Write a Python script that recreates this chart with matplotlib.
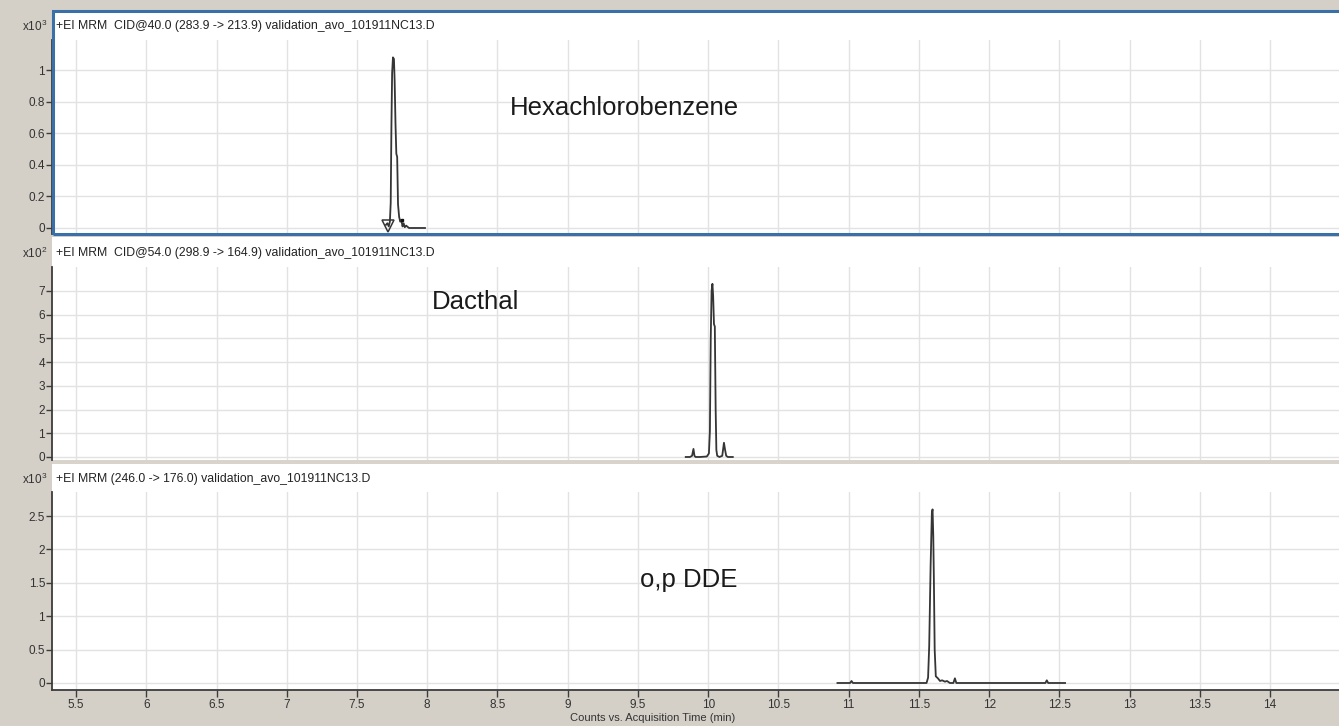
import matplotlib
matplotlib.use('Agg')
import matplotlib.pyplot as plt
from matplotlib.patches import Rectangle

plt.rcParams['font.family'] = ['Liberation Sans', 'DejaVu Sans']
plt.rcParams['mathtext.default'] = 'regular'

# figure size in pixels
W, H = 1339, 726
BG = '#d4d0c8'
TRACE = '#353535'
GRID = '#e2e2e2'
AXIS = '#3c3c3c'

# x axis (minutes)
x_ticks = [5.5, 6, 6.5, 7, 7.5, 8, 8.5, 9, 9.5, 10, 10.5, 11, 11.5, 12, 12.5, 13, 13.5, 14]
x_labels = ['5.5', '6', '6.5', '7', '7.5', '8', '8.5', '9', '9.5', '10', '10.5',
            '11', '11.5', '12', '12.5', '13', '13.5', '14']

# Hexachlorobenzene, counts x10^3
hcb_t = [7.706, 7.716, 7.726, 7.734, 7.740, 7.745, 7.750, 7.756, 7.763, 7.768, 7.774,
         7.780, 7.786, 7.792, 7.800, 7.808, 7.816, 7.824, 7.832, 7.840, 7.850, 7.870,
         7.920, 7.984]
hcb_y = [0.02, 0.03, 0.01, 0.04, 0.16, 0.64, 0.98, 1.08, 1.07, 0.93, 0.66,
         0.47, 0.45, 0.15, 0.07, 0.04, 0.05, 0.01, 0.03, 0.005, 0.015, 0.0,
         0.0, 0.0]
hcb_ticks = [0, 0.2, 0.4, 0.6, 0.8, 1]
hcb_ticklabels = ['0', '0.2', '0.4', '0.6', '0.8', '1']
# integration start / end markers
hcb_start = (7.72, 0.01)
hcb_end = (7.82, 0.05)

# Dacthal, counts x10^2
dac_t = [9.84, 9.87, 9.885, 9.895, 9.902, 9.91, 9.94, 9.99, 10.005, 10.012, 10.018,
         10.024, 10.030, 10.035, 10.041, 10.047, 10.053, 10.058, 10.064, 10.08, 10.10,
         10.112, 10.12, 10.128, 10.14, 10.175]
dac_y = [0.0, 0.0, 0.05, 0.34, 0.05, 0.0, 0.0, 0.02, 0.15, 1.1, 5.0,
         7.0, 7.3, 6.8, 5.6, 5.5, 2.0, 0.3, 0.05, 0.0, 0.05,
         0.6, 0.3, 0.05, 0.0, 0.0]
dac_ticks = [0, 1, 2, 3, 4, 5, 6, 7]
dac_ticklabels = ['0', '1', '2', '3', '4', '5', '6', '7']

# o,p DDE, counts x10^3
dde_t = [10.92, 11.01, 11.02, 11.03, 11.30, 11.554, 11.565, 11.573, 11.583, 11.592,
         11.597, 11.602, 11.606, 11.612, 11.62, 11.635, 11.65, 11.665, 11.685, 11.70,
         11.72, 11.745, 11.756, 11.766, 11.80, 12.40, 12.41, 12.42, 12.54]
dde_y = [0.0, 0.0, 0.03, 0.0, 0.0, 0.0, 0.08, 0.55, 1.75, 2.55,
         2.6, 2.2, 1.6, 0.5, 0.1, 0.07, 0.03, 0.04, 0.02, 0.03,
         0.0, 0.0, 0.07, 0.0, 0.0, 0.0, 0.04, 0.0, 0.0]
dde_ticks = [0, 0.5, 1, 1.5, 2, 2.5]
dde_ticklabels = ['0', '0.5', '1', '1.5', '2', '2.5']

headers = ['+EI MRM  CID@40.0 (283.9 -> 213.9) validation_avo_101911NC13.D',
           '+EI MRM  CID@54.0 (298.9 -> 164.9) validation_avo_101911NC13.D',
           '+EI MRM (246.0 -> 176.0) validation_avo_101911NC13.D']
exponents = ['3', '2', '3']
compounds = ['Hexachlorobenzene', 'Dacthal', 'o,p DDE']


def fx(px):
    return px / W


def fy(py):
    return 1 - py / H


def rect(left, top, right, bottom):
    return [fx(left), fy(bottom), (right - left) / W, (bottom - top) / H]


fig = plt.figure(figsize=(W / 100, H / 100), dpi=100, facecolor=BG)

# panel layout in pixels: white area top, plot top, plot bottom
panels = [
    dict(top=11, ptop=40, bottom=234, ylim=(-0.038, 1.19)),
    dict(top=237, ptop=267, bottom=460, ylim=(-0.127, 8.01)),
    dict(top=464, ptop=492, bottom=690, ylim=(-0.105, 2.86)),
]
series = [(hcb_t, hcb_y, hcb_ticks, hcb_ticklabels),
          (dac_t, dac_y, dac_ticks, dac_ticklabels),
          (dde_t, dde_y, dde_ticks, dde_ticklabels)]
label_pos = [(510, 115), (432, 309), (640, 587)]

# white background of each pane (header + plot)
for p in panels:
    fig.patches.append(Rectangle((fx(52), fy(p['bottom'])), 1 - fx(52),
                                 (p['bottom'] - p['top']) / H, transform=fig.transFigure,
                                 facecolor='white', edgecolor='none', zorder=-2))
# separator between pane 2 and 3
fig.patches.append(Rectangle((fx(52), fy(464)), 1 - fx(52), 4 / H, transform=fig.transFigure,
                             facecolor='#d9d4cb', edgecolor='none', zorder=-2))

axes = []
for i, p in enumerate(panels):
    ax = fig.add_axes(rect(52, p['ptop'], W, p['bottom']))
    t, y, yt, ytl = series[i]
    ax.plot(t, y, color=TRACE, lw=1.3, zorder=3)
    ax.set_xlim(5.329, 14.49)
    ax.set_ylim(*p['ylim'])
    ax.set_xticks(x_ticks)
    ax.set_yticks(yt)
    ax.set_yticklabels(ytl)
    ax.grid(True, color=GRID, lw=1.0)
    ax.set_axisbelow(True)
    for s in ['top', 'right', 'bottom']:
        ax.spines[s].set_visible(False)
    ax.spines['left'].set_color(AXIS)
    ax.spines['left'].set_linewidth(1.3)
    ax.tick_params(axis='y', direction='out', length=4, width=1, color=AXIS,
                   labelsize=8.5, labelcolor='#333333', pad=1)
    if i < 2:
        ax.tick_params(axis='x', length=0, labelbottom=False)
    else:
        ax.spines['bottom'].set_visible(True)
        ax.spines['bottom'].set_color(AXIS)
        ax.spines['bottom'].set_linewidth(1.3)
        ax.set_xticklabels(x_labels)
        ax.tick_params(axis='x', direction='out', length=5, width=1, color=AXIS,
                       labelsize=8.5, labelcolor='#333333', pad=1.5)
    # header text and scale factor
    hy = (p['top'] + p['ptop']) / 2 + 1
    fig.text(fx(56), fy(hy), headers[i], fontsize=8.8, color='#222222',
             ha='left', va='center')
    fig.text(fx(47), fy(hy), 'x10$^{' + exponents[i] + '}$', fontsize=8.5,
             color='#333333', ha='right', va='center')
    lx, ly = label_pos[i]
    fig.text(fx(lx), fy(ly), compounds[i], fontsize=18.5, color='#1a1a1a',
             ha='left', va='baseline')
    axes.append(ax)

# integration markers on the first trace
axes[0].plot([hcb_start[0]], [hcb_start[1]], marker='v', markersize=8,
             markerfacecolor='none', markeredgecolor=TRACE, markeredgewidth=1.1, zorder=4)
axes[0].plot([hcb_end[0]], [hcb_end[1]], marker='s', markersize=2,
             color='#111111', zorder=4)

# selected pane border (blue)
fig.patches.append(Rectangle((fx(52.5), fy(234)), 1 - fx(52.5) + 0.01, (234 - 11) / H,
                             transform=fig.transFigure, facecolor='none',
                             edgecolor='#3a6fa8', lw=2.2, zorder=10))

fig.text(fx(653), fy(718), 'Counts vs. Acquisition Time (min)', fontsize=8,
         color='#333333', ha='center', va='center')

fig.savefig('out.png', dpi=100, facecolor=BG)
